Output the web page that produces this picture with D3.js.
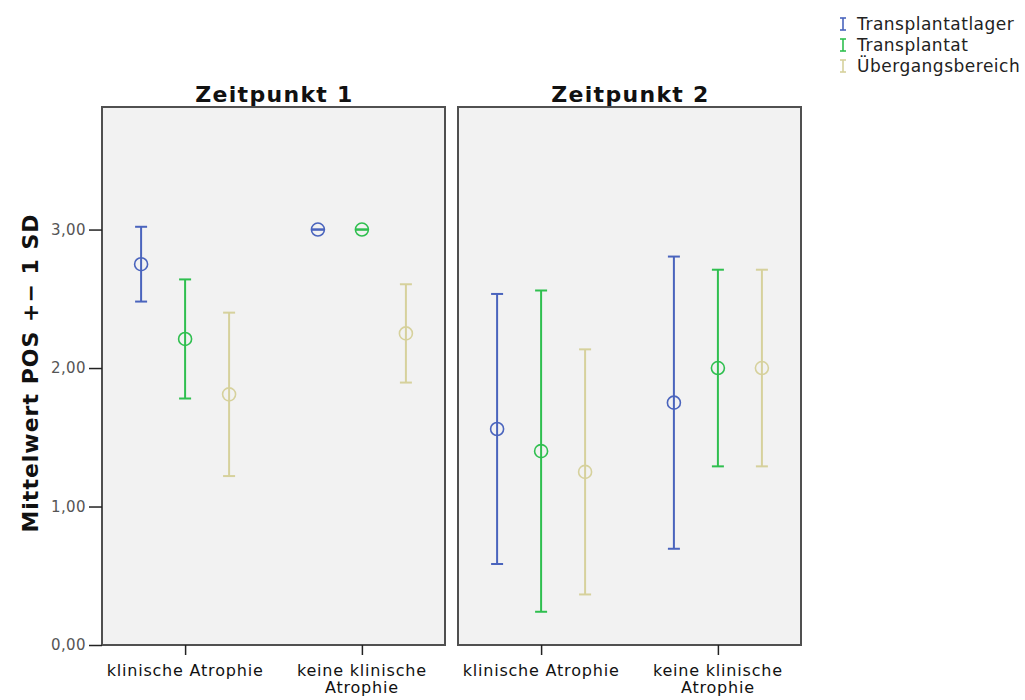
<!DOCTYPE html>
<html>
<head>
<meta charset="utf-8">
<script src="https://cdn.jsdelivr.net/npm/d3@7"></script>
<style>
  body { margin: 0; background: #fff; }
  svg { display: block; }
  text { font-family: "DejaVu Sans", sans-serif; }
</style>
</head>
<body>
<svg id="chart" width="1025" height="700"></svg>
<script>
// ---- data ----
const panels = ["Zeitpunkt 1", "Zeitpunkt 2"];
const categories = ["klinische Atrophie", "keine klinische Atrophie"];
const categoryLines = [["klinische Atrophie"], ["keine klinische", "Atrophie"]];
const seriesNames = ["Transplantatlager", "Transplantat", "Übergangsbereich"];
// means[panel][category][series]
const means = [
  [[2.75, 2.21, 1.81], [3.00, 3.00, 2.25]],
  [[1.56, 1.40, 1.25], [1.75, 2.00, 2.00]]
];
// standard deviations, same layout
const sds = [
  [[0.27, 0.43, 0.59], [0.00, 0.00, 0.355]],
  [[0.975, 1.16, 0.885], [1.055, 0.71, 0.71]]
];
const yTicks = [0, 1, 2, 3];
const yLabel = "Mittelwert POS +\u2212 1 SD";

// ---- styling ----
const colors = ["#4a64bd", "#2fbf4f", "#d6d19c"];

const svg = d3.select("#chart");
const H_top = 107, H_bot = 645;
const panelX = [[102, 445], [458, 801]];

const y = d3.scaleLinear().domain([0, 3.885]).range([H_bot, H_top]);
const fmt = v => d3.format(".2f")(v).replace(".", ",");

panels.forEach((pName, pi) => {
  const [x0, x1] = panelX[pi];
  const x = d3.scalePoint().domain(categories).range([x0, x1]).padding(0.47);
  const off = d3.scalePoint().domain(seriesNames).range([-44, 44]);

  const g = svg.append("g");
  g.append("rect")
    .attr("x", x0).attr("y", H_top)
    .attr("width", x1 - x0).attr("height", H_bot - H_top)
    .attr("fill", "#f2f2f2").attr("stroke", "#505050").attr("stroke-width", 2);

  // panel title
  g.append("text")
    .attr("x", (x0 + x1) / 2 + 1).attr("y", 102)
    .attr("text-anchor", "middle")
    .attr("font-size", 22).attr("font-weight", "bold")
    .attr("letter-spacing", 1.3)
    .attr("fill", "#111")
    .text(pName);

  // x axis
  const xAxis = d3.axisBottom(x).tickSize(10).tickFormat("");
  const xa = g.append("g").attr("transform", `translate(0,${H_bot})`).call(xAxis);
  xa.select(".domain").remove();
  xa.selectAll(".tick line").attr("stroke", "#222").attr("stroke-width", 1.5);
  categories.forEach((c, ci) => {
    const t = g.append("text")
      .attr("x", x(c)).attr("y", 676)
      .attr("text-anchor", "middle")
      .attr("font-size", 16).attr("letter-spacing", 0.8).attr("fill", "#111");
    categoryLines[ci].forEach((ln, li) => {
      t.append("tspan").attr("x", x(c)).attr("dy", li === 0 ? 0 : 17).text(ln);
    });
  });

  // error bars
  categories.forEach((c, ci) => {
    seriesNames.forEach((s, si) => {
      const m = means[pi][ci][si], sd = sds[pi][ci][si];
      const cx = x(c) + off(s);
      const col = colors[si];
      const eb = g.append("g").attr("stroke", col).attr("fill", "none").attr("stroke-width", 2);
      eb.append("line").attr("x1", cx).attr("x2", cx).attr("y1", y(m + sd)).attr("y2", y(m - sd));
      eb.append("line").attr("x1", cx - 6).attr("x2", cx + 6).attr("y1", y(m + sd)).attr("y2", y(m + sd));
      eb.append("line").attr("x1", cx - 6).attr("x2", cx + 6).attr("y1", y(m - sd)).attr("y2", y(m - sd));
      eb.append("circle").attr("cx", cx).attr("cy", y(m)).attr("r", 6.5).attr("stroke-width", 1.6);
    });
  });
});

// y axis
const yAxis = d3.axisLeft(y).tickValues(yTicks).tickSize(13).tickPadding(3).tickFormat(fmt);
const ya = svg.append("g").attr("transform", `translate(${panelX[0][0]},0)`).call(yAxis);
ya.select(".domain").remove();
ya.selectAll(".tick line").attr("stroke", "#222").attr("stroke-width", 1.5);
ya.selectAll(".tick text").attr("font-size", 15).attr("letter-spacing", 0.4).attr("fill", "#555")
  .attr("font-family", "'DejaVu Sans', sans-serif");

svg.append("text")
  .attr("transform", `translate(38,373) rotate(-90)`)
  .attr("text-anchor", "middle")
  .attr("font-size", 22).attr("font-weight", "bold").attr("letter-spacing", 1.0).attr("fill", "#111")
  .text(yLabel);

// legend
const lg = svg.append("g");
seriesNames.forEach((s, i) => {
  const ly = 24 + i * 21;
  const gi = lg.append("g").attr("stroke", colors[i]).attr("stroke-width", 1.6);
  gi.append("line").attr("x1", 843).attr("x2", 843).attr("y1", ly - 6).attr("y2", ly + 6);
  gi.append("line").attr("x1", 840).attr("x2", 846).attr("y1", ly - 6).attr("y2", ly - 6);
  gi.append("line").attr("x1", 840).attr("x2", 846).attr("y1", ly + 6).attr("y2", ly + 6);
  lg.append("text").attr("x", 857).attr("y", ly + 6)
    .attr("font-size", 17).attr("letter-spacing", 0.5).attr("fill", "#222").text(s);
});
</script>
</body>
</html>
